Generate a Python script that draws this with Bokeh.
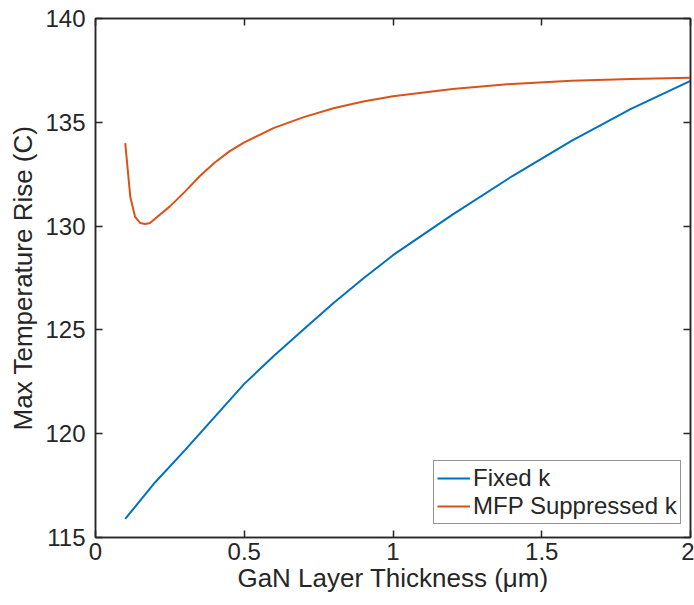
from bokeh.plotting import figure
from bokeh.models import Range1d, LinearAxis, FixedTicker, Legend, LegendItem
from bokeh.embed import file_html
from bokeh.resources import INLINE

# Data
fixed_x = [0.1, 0.2, 0.3, 0.4, 0.5, 0.6, 0.7, 0.8, 0.9, 1.0, 1.2, 1.4, 1.6, 1.8, 2.0]
fixed_y = [115.9, 117.65, 119.2, 120.8, 122.4, 123.75, 125.03, 126.3, 127.48, 128.6,
           130.55, 132.4, 134.1, 135.65, 137.0]

mfp_x = [0.1, 0.117, 0.133, 0.15, 0.167, 0.183, 0.2, 0.25, 0.3, 0.35, 0.4, 0.45, 0.5,
         0.6, 0.7, 0.8, 0.9, 1.0, 1.2, 1.4, 1.6, 1.8, 2.0]
mfp_y = [134.0, 131.4, 130.45, 130.15, 130.1, 130.15, 130.35, 130.95, 131.65, 132.4,
         133.05, 133.6, 134.03, 134.73, 135.25, 135.68, 136.0, 136.25, 136.6, 136.85,
         137.0, 137.08, 137.15]

x_ticks = [0, 0.5, 1, 1.5, 2]
x_tick_labels = {0: "0", 0.5: "0.5", 1: "1", 1.5: "1.5", 2: "2"}
y_ticks = [115, 120, 125, 130, 135, 140]

AX = "#262626"
FONT = "Liberation Sans"

p = figure(width=694, height=605, output_backend="svg", toolbar_location=None,
           x_range=Range1d(0, 2), y_range=Range1d(115, 140),
           min_border_left=95, min_border_right=4, min_border_top=18, min_border_bottom=68,
           x_axis_label="GaN Layer Thickness (μm)", y_axis_label="Max Temperature Rise (C)")
p.grid.visible = False
p.outline_line_color = AX
p.outline_line_width = 1.5
p.background_fill_color = "white"
p.border_fill_color = "white"

r1 = p.line(fixed_x, fixed_y, line_color="#0072BD", line_width=2)
r2 = p.line(mfp_x, mfp_y, line_color="#D95319", line_width=2)

for ax in (p.xaxis[0], p.yaxis[0]):
    ax.axis_line_color = AX
    ax.axis_line_width = 1.5
    ax.major_tick_line_color = AX
    ax.major_tick_line_width = 1.5
    ax.major_tick_in = 7
    ax.major_tick_out = 0
    ax.minor_tick_line_color = None
    ax.major_label_text_font = FONT
    ax.major_label_text_font_size = "24px"
    ax.major_label_text_color = AX
    ax.axis_label_text_font = FONT
    ax.axis_label_text_font_size = "26px"
    ax.axis_label_text_font_style = "normal"
    ax.axis_label_text_color = AX

p.xaxis[0].ticker = FixedTicker(ticks=x_ticks)
p.xaxis[0].major_label_overrides = x_tick_labels
p.xaxis[0].major_label_standoff = 5
p.xaxis[0].axis_label_standoff = 0
p.yaxis[0].ticker = FixedTicker(ticks=y_ticks)
p.yaxis[0].major_label_standoff = 10
p.yaxis[0].axis_label_standoff = 4

# box ticks on right and top (no labels)
right = LinearAxis(ticker=FixedTicker(ticks=y_ticks),
                   major_label_overrides={t: "" for t in y_ticks},
                   axis_line_color=AX, axis_line_width=1.5, major_tick_line_color=AX,
                   major_tick_line_width=1.5, major_tick_in=7, major_tick_out=0,
                   minor_tick_line_color=None, major_label_standoff=0)
top = LinearAxis(ticker=FixedTicker(ticks=x_ticks),
                 major_label_overrides={t: "" for t in x_ticks},
                 axis_line_color=AX, axis_line_width=1.5, major_tick_line_color=AX,
                 major_tick_line_width=1.5, major_tick_in=7, major_tick_out=0,
                 minor_tick_line_color=None, major_label_standoff=0)
p.add_layout(right, "right")
p.add_layout(top, "above")

legend = Legend(items=[LegendItem(label="Fixed k", renderers=[r1]),
                       LegendItem(label="MFP Suppressed k", renderers=[r2])],
                location=(338, 13))
legend.margin = 0
legend.padding = 3
legend.spacing = 0
legend.glyph_width = 33
legend.glyph_height = 22
legend.label_height = 22
legend.label_standoff = 3
legend.label_text_font = FONT
legend.label_text_font_size = "24px"
legend.label_text_line_height = 1.0
legend.label_text_color = AX
legend.border_line_color = AX
legend.border_line_width = 1.5
legend.background_fill_alpha = 1
p.add_layout(legend, "center")

open("out.html", "w").write(file_html(p, INLINE))
